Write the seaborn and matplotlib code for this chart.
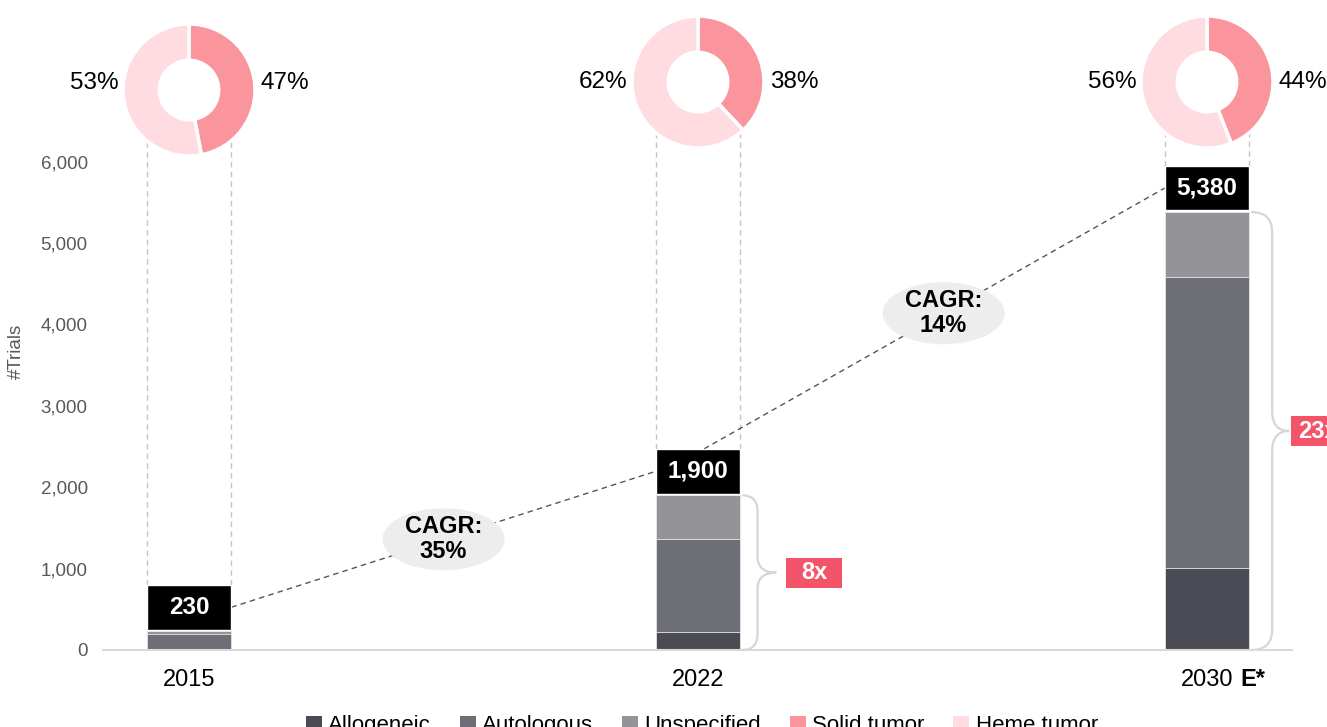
import numpy as np
import pandas as pd
import seaborn as sns
import matplotlib
matplotlib.use("Agg")
import matplotlib.pyplot as plt
from matplotlib.patches import Ellipse, Rectangle, PathPatch, Patch
from matplotlib.path import Path

# --- data ---
years = ["2015", "2022", "2030"]
allogeneic = [10, 220, 1010]
autologous = [185, 1140, 3570]
unspecified = [35, 540, 800]
total_labels = ["230", "1,900", "5,380"]
solid_pct = [47, 38, 44]
heme_pct = [53, 62, 56]
cagr_labels = ["CAGR:\n35%", "CAGR:\n14%"]
growth_labels = ["8x", "23x"]
legend_labels = ["Allogeneic", "Autologous", "Unspecified", "Solid tumor", "Heme tumor"]

C_ALLO = "#4b4b55"
C_AUTO = "#6e6e76"
C_UNSP = "#949398"
C_SOLID = "#fa959e"
C_HEME = "#ffdce1"
C_RED = "#f4546a"

df = pd.DataFrame({"year": years, "allo": allogeneic, "auto": autologous, "unsp": unspecified})
df["total"] = df["allo"] + df["auto"] + df["unsp"]
df["mid"] = df["allo"] + df["auto"]

# --- figure / axes ---
sns.set_theme(style="white")
plt.rcParams["font.family"] = ["Liberation Sans", "DejaVu Sans"]
plt.rcParams["text.color"] = "black"

W, H = 1327, 727
fig = plt.figure(figsize=(W / 100, H / 100), dpi=100)
ax = fig.add_axes([103 / W, 77 / H, 1189 / W, 650 / H])

XLIM = (-0.169, 2.167)
YMAX = 7985
X_PX = 1189 / (XLIM[1] - XLIM[0])
Y_PX = 650 / YMAX
dx = lambda px: px / X_PX
dy = lambda px: px / Y_PX

BW = 0.166
kw = dict(width=BW, saturation=1, edgecolor="#e8e8ea", linewidth=0.6, ax=ax, order=years)
sns.barplot(data=df, x="year", y="total", color=C_UNSP, **kw)
sns.barplot(data=df, x="year", y="mid", color=C_AUTO, **kw)
sns.barplot(data=df, x="year", y="allo", color=C_ALLO, **kw)

ax.set_xlim(*XLIM)
ax.set_ylim(0, YMAX)
ax.set_yticks(range(0, 7000, 1000))
ax.set_yticklabels([f"{v:,}" for v in range(0, 7000, 1000)])
ax.tick_params(axis="y", length=0, labelsize=13.5, labelcolor="#595959", pad=11)
ax.tick_params(axis="x", length=0, labelsize=17, labelcolor="black", pad=14)
ax.set_xlabel("")
ax.set_ylabel("#Trials", fontsize=13.5, color="#595959")
ax.yaxis.set_label_coords(-0.066, 0.46)
for s in ["top", "right", "left"]:
    ax.spines[s].set_visible(False)
ax.spines["bottom"].set_color("#d9d9d9")
ax.spines["bottom"].set_linewidth(1.5)

# "E*" suffix for the estimate year
ax.text(2 + dx(33), -dy(29), "E*", fontsize=17, fontweight="bold", ha="left", va="center")

# --- black total boxes ---
totals = df["total"].values
box_bottom = totals + 20
box_h = 550
ax.bar(range(3), [box_h] * 3, bottom=box_bottom, width=BW, color="black", zorder=3)
box_mid = box_bottom + box_h / 2
box_top = box_bottom + box_h
for i, lab in enumerate(total_labels):
    ax.text(i, box_mid[i], lab, color="white", fontsize=17.5, fontweight="bold",
            ha="center", va="center", zorder=4)

# --- dashed guides from bars up to donuts ---
donut_cy = [90, 82, 82]
for i in range(3):
    ytop = (650 - donut_cy[i]) / Y_PX
    ax.vlines([i - BW / 2, i + BW / 2], box_top[i], ytop, colors="#c4c4c4",
              linestyles=(0, (4, 3)), linewidth=1, zorder=1)

# --- CAGR connectors ---
segs = [((0 + BW / 2, box_mid[0]), (1 - BW / 2, box_mid[1]), 0.5),
        ((1 + dx(6), box_top[1]), (2 - BW / 2, box_mid[2]), 0.52)]
for (p0, p1, t), lab in zip(segs, cagr_labels):
    ax.plot([p0[0], p1[0]], [p0[1], p1[1]], color="#555555", linestyle=(0, (4, 3)),
            linewidth=1, zorder=2)
    cx = p0[0] + t * (p1[0] - p0[0])
    cy = p0[1] + t * (p1[1] - p0[1])
    ax.add_patch(Ellipse((cx, cy), dx(122), dy(62), facecolor="#ededed",
                         edgecolor="none", zorder=3))
    ax.text(cx, cy, lab, fontsize=17, fontweight="bold", ha="center", va="center",
            color="black", linespacing=1.1, zorder=4)


# --- braces ---
def brace(x0_px_off, i, top, w_px, r_px, xm_frac):
    x0 = i + BW / 2 + dx(x0_px_off)
    xm = x0 + dx(w_px * xm_frac)
    xt = x0 + dx(w_px)
    r = dy(r_px)
    m = top / 2
    verts = [(x0, top), (xm, top), (xm, top - r),
             (xm, m + r), (xm, m), (xt, m),
             (xm, m), (xm, m - r),
             (xm, r), (xm, 0), (x0, 0)]
    codes = [Path.MOVETO, Path.CURVE3, Path.CURVE3,
             Path.LINETO, Path.CURVE3, Path.CURVE3,
             Path.CURVE3, Path.CURVE3,
             Path.LINETO, Path.CURVE3, Path.CURVE3]
    ax.add_patch(PathPatch(Path(verts, codes), facecolor="none", edgecolor="#d6d6d8",
                           linewidth=1.6, clip_on=False, zorder=2))
    return xt, m


xt, m = brace(2, 1, totals[1], 34, 16, 0.45)
ax.add_patch(Rectangle((xt + dx(10), m - dy(15)), dx(56), dy(30), facecolor=C_RED,
                       edgecolor="none", clip_on=False))
ax.text(xt + dx(38), m, growth_labels[0], color="white", fontsize=17, fontweight="bold",
        ha="center", va="center")

xt, m = brace(2, 2, totals[2], 38, 20, 0.55)
ax.add_patch(Rectangle((xt + dx(2), m - dy(15)), dx(70), dy(30), facecolor=C_RED,
                       edgecolor="none", clip_on=False))
ax.text(xt + dx(9), m, growth_labels[1], color="white", fontsize=17, fontweight="bold",
        ha="left", va="center", clip_on=False)

# --- donuts ---
R = 66
for i in range(3):
    cx_px = ax.transData.transform((i, 0))[0]
    cy_px = H - donut_cy[i]
    dax = fig.add_axes([(cx_px - R) / W, (cy_px - R) / H, 2 * R / W, 2 * R / H])
    dax.pie([solid_pct[i], heme_pct[i]], colors=[C_SOLID, C_HEME], startangle=90,
            counterclock=False, radius=1,
            wedgeprops=dict(width=0.55, edgecolor="white", linewidth=2.5))
    dax.set_xlim(-1, 1)
    dax.set_ylim(-1, 1)
    dax.axis("off")
    dy_lab = 0.1 if i == 0 else 0.0
    dax.text(1.09, dy_lab, f"{solid_pct[i]}%", fontsize=17.5, ha="left", va="center", clip_on=False)
    dax.text(-1.07, dy_lab, f"{heme_pct[i]}%", fontsize=17.5, ha="right", va="center", clip_on=False)

# --- legend ---
handles = [Patch(facecolor=c, edgecolor="none")
           for c in [C_ALLO, C_AUTO, C_UNSP, C_SOLID, C_HEME]]
fig.legend(handles, legend_labels, loc="upper center", bbox_to_anchor=(0.529, 23 / H),
           ncol=5, frameon=False, fontsize=16, handlelength=0.7, handleheight=0.7,
           handletextpad=0.3, columnspacing=1.3, borderpad=0, labelcolor="black")

fig.savefig("out.png", dpi=100)
